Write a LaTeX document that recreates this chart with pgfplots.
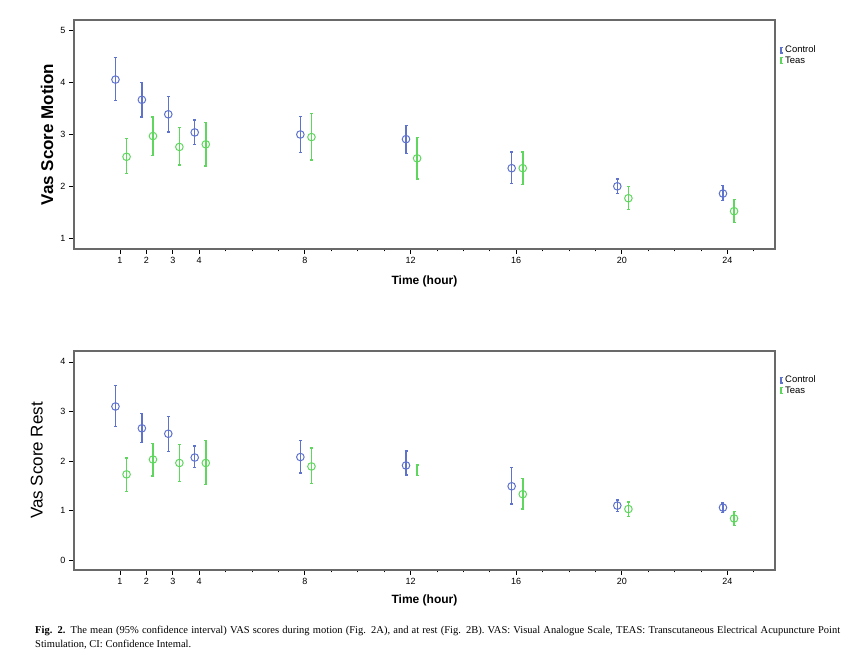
\documentclass[border=0pt]{standalone}
\usepackage{fontspec}
\setmainfont{Liberation Sans}
\newfontfamily\capfont{Liberation Serif}
\usepackage{pgfplots}
\pgfplotsset{compat=1.18}
\definecolor{ctrl}{RGB}{95,115,205}
\definecolor{teas}{RGB}{95,215,95}
\definecolor{framec}{RGB}{105,105,105}
\pgfplotsset{myax/.style={
  scale only axis, width=701pt, xmin=-0.74, xmax=25.8,
  xtick={1,2,3,4,8,12,16,20,24},
  minor xtick={5,6,7,9,10,11,13,14,15,17,18,19,21,22,23,25},
  tick align=outside, major tick length=5pt, minor tick length=2.5pt,
  xtick pos=bottom, ytick pos=left,
  axis line style={framec, line width=1.3pt},
  tick style={black, line width=0.8pt},
  ticklabel style={font=\fontsize{9}{10}\selectfont},
  /pgf/number format/assume math mode=true,
  xlabel={Time (hour)},
  xlabel style={font=\fontsize{12}{14}\selectfont\bfseries, at={(axis description cs:0.5,0)}, anchor=center, yshift=-32pt},
  legend style={draw=none, fill=none, at={(1.004,0.90)}, anchor=north west, font=\fontsize{9.5}{10}\selectfont, row sep=-2pt, inner sep=1pt},
  legend cell align=left,
  error bars/y dir=both, error bars/y explicit,
  error bars/error mark options={rotate=90, mark size=1.5pt, line width=1.3pt},
},
ctrlplot/.style={forget plot, only marks, color=ctrl, mark=o, mark size=3.8pt,
  mark options={ctrl, line width=1pt, fill=none},
  error bars/error bar style={ctrl, line width=1.5pt}},
teasplot/.style={forget plot, only marks, color=teas, mark=o, mark size=3.8pt,
  mark options={teas, line width=1pt, fill=none},
  error bars/error bar style={teas, line width=1.5pt}},
}
\newcommand{\ebleg}[1]{\addlegendimage{legend image code/.code={
  \draw[#1, line width=1.3pt] (0.15cm,-0.1cm)--(0.15cm,0.1cm);
  \draw[#1, line width=1.3pt] (0.10cm,0.1cm)--(0.20cm,0.1cm);
  \draw[#1, line width=1.3pt] (0.10cm,-0.1cm)--(0.20cm,-0.1cm);}}}
\begin{document}
\begin{tikzpicture}
\useasboundingbox (0,0) rectangle (865pt,664pt);
% Top panel: motion
\begin{axis}[myax, at={(74pt,415pt)}, anchor=south west, height=229pt,
  ymin=0.79, ymax=5.21, ytick={1,2,3,4,5},
  ylabel={Vas Score Motion},
  ylabel style={font=\fontsize{17}{19}\selectfont\bfseries, at={(axis description cs:-0.0385,0.5)}, anchor=center}]
\ebleg{ctrl}\addlegendentry{Control}
\ebleg{teas}\addlegendentry{Teas}
\addplot[ctrlplot] coordinates {
 (0.83,4.06) += (0,0.43) -= (0,0.41)
 (1.83,3.67) += (0,0.34) -= (0,0.33)
 (2.83,3.39) += (0,0.35) -= (0,0.34)
 (3.83,3.04) += (0,0.24) -= (0,0.23)
 (7.83,3.00) += (0,0.35) -= (0,0.35)
 (11.83,2.91) += (0,0.27) -= (0,0.28)
 (15.83,2.35) += (0,0.31) -= (0,0.30)
 (19.83,2.00) += (0,0.14) -= (0,0.14)
 (23.83,1.86) += (0,0.15) -= (0,0.14)
};
\addplot[teasplot] coordinates {
 (1.25,2.57) += (0,0.35) -= (0,0.32)
 (2.25,2.97) += (0,0.37) -= (0,0.37)
 (3.25,2.76) += (0,0.37) -= (0,0.35)
 (4.25,2.81) += (0,0.42) -= (0,0.42)
 (8.25,2.95) += (0,0.45) -= (0,0.44)
 (12.25,2.54) += (0,0.40) -= (0,0.40)
 (16.25,2.35) += (0,0.31) -= (0,0.31)
 (20.25,1.77) += (0,0.23) -= (0,0.22)
 (24.25,1.52) += (0,0.22) -= (0,0.22)
};
\end{axis}
% Bottom panel: rest
\begin{axis}[myax, at={(74pt,94pt)}, anchor=south west, height=219pt,
  ymin=-0.2, ymax=4.22, ytick={0,1,2,3,4},
  ylabel={Vas Score Rest},
  ylabel style={font=\fontsize{17}{19}\selectfont, at={(axis description cs:-0.053,0.5)}, anchor=center},
  xlabel style={yshift=2pt}]
\ebleg{ctrl}\addlegendentry{Control}
\ebleg{teas}\addlegendentry{Teas}
\addplot[ctrlplot] coordinates {
 (0.83,3.10) += (0,0.42) -= (0,0.41)
 (1.83,2.66) += (0,0.30) -= (0,0.29)
 (2.83,2.55) += (0,0.35) -= (0,0.36)
 (3.83,2.07) += (0,0.23) -= (0,0.20)
 (7.83,2.08) += (0,0.33) -= (0,0.32)
 (11.83,1.91) += (0,0.29) -= (0,0.19)
 (15.83,1.49) += (0,0.38) -= (0,0.36)
 (19.83,1.10) += (0,0.11) -= (0,0.12)
 (23.83,1.06) += (0,0.09) -= (0,0.10)
};
\addplot[teasplot] coordinates {
 (1.25,1.73) += (0,0.33) -= (0,0.34)
 (2.25,2.03) += (0,0.33) -= (0,0.33)
 (3.25,1.96) += (0,0.37) -= (0,0.37)
 (4.25,1.96) += (0,0.46) -= (0,0.44)
 (8.25,1.89) += (0,0.37) -= (0,0.35)
 (16.25,1.33) += (0,0.31) -= (0,0.30)
 (20.25,1.03) += (0,0.14) -= (0,0.15)
 (24.25,0.84) += (0,0.14) -= (0,0.14)
};
\addplot[teasplot, mark size=0pt, mark options={draw=none, fill=none}] coordinates {
 (12.25,1.82) += (0,0.10) -= (0,0.11)
};
\end{axis}
\node[anchor=north west, text width=805pt, align=justify, inner sep=0pt,
  font=\capfont\fontsize{10.5}{14}\selectfont] at (35pt,38pt)
  {\textbf{Fig. 2.} The mean (95\% confidence interval) VAS scores during motion (Fig. 2A), and at rest (Fig. 2B). VAS: Visual Analogue Scale, TEAS: Transcutaneous Electrical Acupuncture Point Stimulation, CI: Confidence Intemal.};
\end{tikzpicture}
\end{document}
